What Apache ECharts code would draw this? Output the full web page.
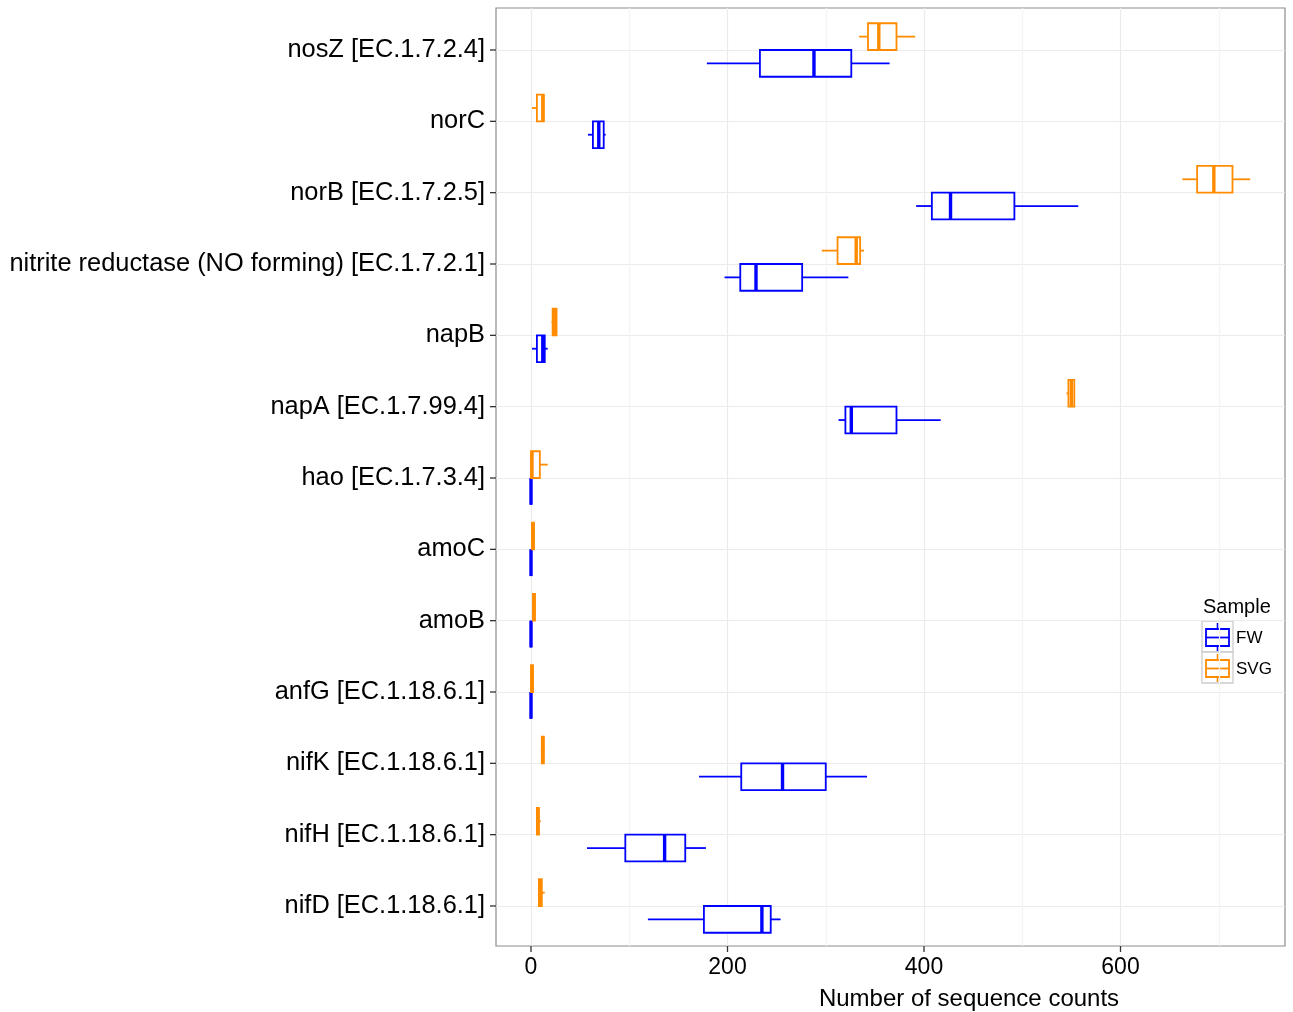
<!DOCTYPE html>
<html>
<head>
<meta charset="utf-8">
<script src="https://cdn.jsdelivr.net/npm/echarts@6/dist/echarts.min.js"></script>
<style>
html,body{margin:0;padding:0;background:#fff;}
#chart{width:1293px;height:1012px;}
</style>
</head>
<body>
<div id="chart"></div>
<script>
// ---- data ----
const categories = [
  'nosZ [EC.1.7.2.4]',
  'norC',
  'norB [EC.1.7.2.5]',
  'nitrite reductase (NO forming) [EC.1.7.2.1]',
  'napB',
  'napA [EC.1.7.99.4]',
  'hao [EC.1.7.3.4]',
  'amoC',
  'amoB',
  'anfG [EC.1.18.6.1]',
  'nifK [EC.1.18.6.1]',
  'nifH [EC.1.18.6.1]',
  'nifD [EC.1.18.6.1]'
];
// [min, q1, median, q3, max]
const fwStats = [
  [179, 233, 288, 326, 365],
  [58, 63, 69, 74, 76],
  [392, 408, 427, 492, 557],
  [197, 213, 229, 276, 323],
  [1, 6, 12, 14, 17],
  [313, 320, 326, 372, 417],
  [0, 0, 0, 0, 0],
  [0, 0, 0, 0, 0],
  [0, 0, 0, 0, 0],
  [0, 0, 0, 0, 0],
  [171, 214, 256, 300, 342],
  [57, 96, 136, 157, 178],
  [119, 176, 235, 244, 254]
];
const svgStats = [
  [334, 343, 354, 372, 391],
  [1, 6, 12, 13, 13],
  [663, 678, 695, 714, 732],
  [296, 312, 331, 335, 339],
  [21, 22, 24, 26, 26],
  [545, 547, 550, 553, 553],
  [0, 0, 1, 9, 17],
  [1, 1, 2, 3, 3],
  [2, 2, 3, 4, 5],
  [0, 0, 1, 2, 2],
  [10, 11, 12, 13, 14],
  [6, 6, 7, 8, 10],
  [8, 8, 9, 11, 14]
];
const xTicks = [0, 200, 400, 600];
const groups = ['FW', 'SVG'];
const groupColors = ['#0000FF', '#FF8C00'];
const legendTitle = 'Sample';
const xTitle = 'Number of sequence counts';

// ---- chart ----
const FONT = "'Liberation Sans', Arial, Helvetica, sans-serif";
const BOX_W = 0.375;
// layout: panel 496..1285 x 8..946 ; x: 0 at 531, 0.9825 px per unit
const PX_PER_UNIT = 0.9825;
const X0 = 531;
const CAT_TOP = 50;
const CAT_STEP = 856 / 12;
const LW = 1.8;

function boxRenderer(offset) {
  return function (params, api) {
    const yi = api.value(0);
    const px = [1, 2, 3, 4, 5].map(k => api.coord([api.value(k), yi])[0]);
    const yc = api.coord([0, yi + offset])[1];
    const h = Math.abs(api.size([0, BOX_W])[1]);
    const color = api.visual('color');
    return {
      type: 'group',
      children: [
        {type: 'line', shape: {x1: px[0], y1: yc, x2: px[1], y2: yc}, style: {stroke: color, lineWidth: LW}},
        {type: 'line', shape: {x1: px[3], y1: yc, x2: px[4], y2: yc}, style: {stroke: color, lineWidth: LW}},
        {type: 'rect', shape: {x: px[1], y: yc - h / 2, width: px[3] - px[1], height: h}, style: {stroke: color, lineWidth: LW, fill: '#ffffff'}},
        {type: 'line', shape: {x1: px[2], y1: yc - h / 2, x2: px[2], y2: yc + h / 2}, style: {stroke: color, lineWidth: 3.4}}
      ]
    };
  };
}

function legendKey(i, top) {
  const c = groupColors[i];
  return [
    {type: 'rect', shape: {x: 1202, y: top, width: 31, height: 31}, style: {fill: '#ffffff', stroke: '#cccccc', lineWidth: 1.3}},
    {type: 'line', shape: {x1: 1217.5, y1: top + 2, x2: 1217.5, y2: top + 8}, style: {stroke: c, lineWidth: 1.6}},
    {type: 'rect', shape: {x: 1206, y: top + 8, width: 23, height: 17}, style: {fill: '#ffffff', stroke: c, lineWidth: 1.8}},
    {type: 'line', shape: {x1: 1206, y1: top + 16.5, x2: 1229, y2: top + 16.5}, style: {stroke: c, lineWidth: 1.8}},
    {type: 'line', shape: {x1: 1217.5, y1: top + 25, x2: 1217.5, y2: top + 30}, style: {stroke: c, lineWidth: 1.6}},
    {type: 'text', x: 1236, y: top + 17, style: {text: groups[i], fontSize: 17, fill: '#000', fontFamily: FONT, textVerticalAlign: 'middle'}}
  ];
}

const chart = echarts.init(document.getElementById('chart'), null, {renderer: 'canvas'});
const dataHeight = 12 * CAT_STEP;
const vWidth = 700 * PX_PER_UNIT;

const option = {
  animation: false,
  backgroundColor: '#ffffff',
  textStyle: {fontFamily: FONT},
  grid: [
    // frame
    {left: 496, right: 8, top: 8, bottom: 66, show: true, borderColor: '#8c8c8c', borderWidth: 1.2, backgroundColor: '#ffffff'},
    // vertical grid lines + x labels
    {left: X0, width: vWidth, top: 8, bottom: 66},
    // data
    {left: 496, right: 8, top: CAT_TOP, height: dataHeight}
  ],
  xAxis: [
    {gridIndex: 0, type: 'value', show: false, min: 0, max: 1},
    {
      gridIndex: 1, type: 'value', min: 0, max: 700, interval: 100,
      axisLine: {show: false}, axisTick: {show: false},
      splitLine: {show: true, lineStyle: {color: ['#EBEBEB', '#F4F4F4'], width: 1.2}},
      axisLabel: {
        fontSize: 23, color: '#000', fontFamily: FONT, margin: 10,
        formatter: v => (xTicks.indexOf(v) >= 0 ? String(v) : '')
      }
    },
    {gridIndex: 2, type: 'value', show: false, min: -(X0 - 496) / PX_PER_UNIT, max: (1285 - X0) / PX_PER_UNIT}
  ],
  yAxis: [
    {gridIndex: 0, type: 'value', show: false, min: 0, max: 1},
    {gridIndex: 1, type: 'value', show: false, min: 0, max: 1},
    {
      gridIndex: 2, type: 'value', inverse: true, min: 0, max: 12, interval: 1,
      axisLine: {show: false}, axisTick: {show: false},
      splitLine: {show: true, lineStyle: {color: '#EBEBEB', width: 1.2}},
      axisLabel: {
        fontSize: 25.4, color: '#000', fontFamily: FONT, margin: 11,
        padding: [3, 0, 0, 0],
        formatter: v => (categories[v] !== undefined ? categories[v] : '')
      }
    }
  ],
  graphic: [
    {type: 'text', x: 1203, y: 607, style: {text: legendTitle, fontSize: 20, fill: '#000', fontFamily: FONT, textVerticalAlign: 'middle'}, z: 5},
    {type: 'group', z: 5, children: legendKey(0, 621).concat(legendKey(1, 652))},
    {type: 'text', x: 969, y: 999, style: {text: xTitle, fontSize: 24, fill: '#000', fontFamily: FONT, textAlign: 'center', textVerticalAlign: 'middle'}, z: 5}
  ],
  series: [
    {
      name: groups[0], type: 'custom', xAxisIndex: 2, yAxisIndex: 2, clip: false,
      itemStyle: {color: groupColors[0]},
      encode: {x: [1, 2, 3, 4, 5], y: 0},
      renderItem: boxRenderer(BOX_W / 2),
      data: fwStats.map((s, i) => [i].concat(s)),
      z: 3
    },
    {
      name: groups[1], type: 'custom', xAxisIndex: 2, yAxisIndex: 2, clip: false,
      itemStyle: {color: groupColors[1]},
      encode: {x: [1, 2, 3, 4, 5], y: 0},
      renderItem: boxRenderer(-BOX_W / 2),
      data: svgStats.map((s, i) => [i].concat(s)),
      z: 3
    },
    {
      name: 'xTicks', type: 'custom', silent: true, clip: false, xAxisIndex: 1, yAxisIndex: 1,
      encode: {x: 0, y: 1},
      renderItem: (params, api) => {
        const x = api.coord([api.value(0), 0])[0];
        const yb = params.coordSys.y + params.coordSys.height;
        return {type: 'line', shape: {x1: x, y1: yb, x2: x, y2: yb + 6}, style: {stroke: '#333', lineWidth: 1.3}};
      },
      data: xTicks.map(v => [v, 0])
    },
    {
      name: 'yTicks', type: 'custom', silent: true, clip: false, xAxisIndex: 2, yAxisIndex: 2,
      encode: {x: 0, y: 1},
      renderItem: (params, api) => {
        const y = api.coord([0, api.value(1)])[1];
        const x0 = params.coordSys.x;
        return {type: 'line', shape: {x1: x0 - 6, y1: y, x2: x0, y2: y}, style: {stroke: '#333', lineWidth: 1.3}};
      },
      data: categories.map((c, i) => [0, i])
    }
  ]
};
chart.setOption(option);
</script>
</body>
</html>
